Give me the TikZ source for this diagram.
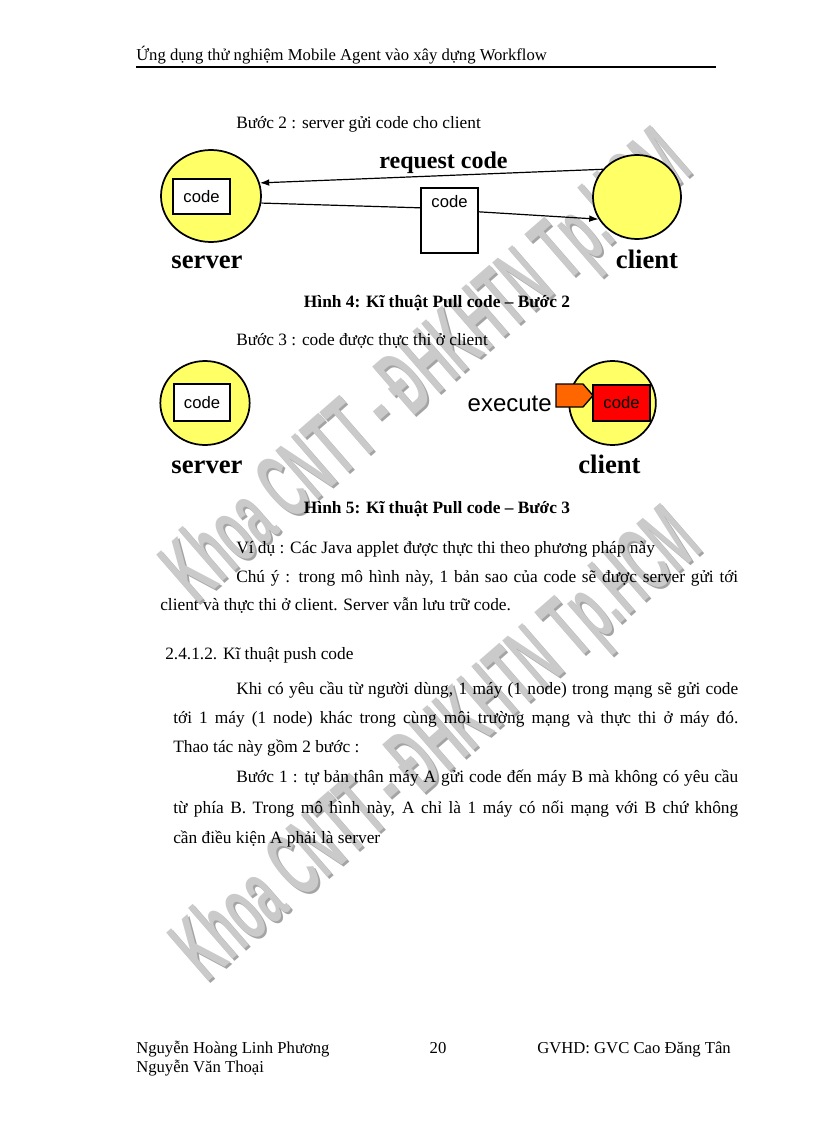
\documentclass[tikz,border=0pt]{standalone}
\usepackage{fontspec}
\usepackage{graphicx}
\setmainfont{Liberation Serif}
\newfontfamily\arialfont{Liberation Sans}
\usetikzlibrary{positioning,arrows.meta,shapes.geometric,calc}
\definecolor{pcyellow}{HTML}{FFFF66}
\definecolor{pcred}{HTML}{FF0000}
\definecolor{pcorange}{HTML}{FF6600}
\definecolor{pcmark}{HTML}{CACACA}
\definecolor{pcmarkedge}{HTML}{A4A4A4}

\begin{document}
\begin{tikzpicture}[x=0.75pt, y=-0.75pt,
  font=\fontsize{13}{15}\selectfont,
  body/.style={anchor=base west, inner sep=0pt},
  host/.style={draw=black, line width=1.3pt, ellipse, fill=pcyellow, inner sep=0pt},
  codebox/.style={draw=black, line width=1.3pt, fill=white, minimum width=42.75pt,
    minimum height=26.25pt, inner sep=0pt, font=\arialfont\fontsize{12.5}{14}\selectfont},
  hostlbl/.style={anchor=base, inner sep=0pt, font=\fontsize{20}{24}\selectfont\bfseries},
  caption/.style={anchor=base, inner sep=0pt, font=\fontsize{13}{15}\selectfont\bfseries},
  link/.style={line width=0.9pt, -{Latex[length=7pt,width=5pt]}},
  wmark/.style={inner sep=0pt, rotate=41, text=pcmark,
    font=\arialfont\bfseries\fontsize{35}{35}\selectfont},
  ]
  \useasboundingbox[fill=white] (0,0) rectangle (816,1123);

  % Watermark, twice, behind the page.
  \foreach \cx/\cy [count=\i] in {430/370, 440/748} {
    \node[wmark, text=pcmarkedge] (wmshade\i) at (\cx+2,\cy+2)
      {\scalebox{0.97}[2]{Khoa CNTT - ĐHKHTN Tp.HCM}};
    \node[wmark] (wm\i) at (\cx,\cy)
      {\scalebox{0.97}[2]{Khoa CNTT - ĐHKHTN Tp.HCM}};
  }

  % Running head.
  \node[body, font=\fontsize{12.5}{14}\selectfont] (hdr) at (136,61)
    {Ứng dụng thử nghiệm Mobile Agent vào xây dựng Workflow};
  \draw[line width=1.8pt] (136,67) -- (716,67);

  % Step 2: the server sends the code.
  \node[body] (step2) at (236,129) {Bước 2 : server gửi code cho client};
  \node[host, minimum width=75pt, minimum height=69pt] (srvA) at (211,196) {};
  \node[host, minimum width=66pt, minimum height=63pt] (cliA) at (637,197) {};
  \node[codebox] (codeA) at (201.5,196.5) {code};
  \node[codebox, text height=14.6pt, text depth=34.15pt] (codeMsg) at (449.5,220.5) {code};
  \node[anchor=base, inner sep=0pt, font=\fontsize{18}{20}\selectfont\bfseries] (reqLbl)
    at (443.5,169) {request code};

  \draw[link] (cliA.141) -- (srvA.15);
  \draw[line width=0.9pt] (srvA.-8) -- ($(codeMsg.north west)!0.31!(codeMsg.south west)$);
  \draw[link] ($(codeMsg.north east)!0.37!(codeMsg.south east)$) -- (cliA.210);

  \node[hostlbl] (srvLblA) at (207,268) {server};
  \node[hostlbl] (cliLblA) at (647,268) {client};
  \node[caption] (cap4) at (437,307) {Hình 4: Kĩ thuật Pull code – Bước 2};

  % Step 3: the code runs at the client.
  \node[body] (step3) at (236,345) {Bước 3 : code được thực thi ở client};
  \node[host, minimum width=67pt, minimum height=63pt] (srvB) at (205,403) {};
  \node[host, minimum width=65pt, minimum height=63pt] (cliB) at (612.5,403) {};
  \node[codebox, minimum width=42pt, minimum height=27.75pt] (codeB) at (202,402.5) {code};
  \coordinate (execTip) at (593,395.5);
  \draw[line width=1pt, fill=pcorange] (556,384) -- (583,384) -- (execTip)
    -- (583,407) -- (556,407) -- cycle;
  \node[codebox, fill=pcred, minimum height=27pt] (codeRun) at (621.5,403) {code};
  \node[anchor=base east, inner sep=0pt, font=\arialfont\fontsize{18}{20}\selectfont]
    (execLbl) at (552,411) {execute};

  \node[hostlbl] (srvLblB) at (207,473) {server};
  \node[hostlbl] (cliLblB) at (609.5,473) {client};
  \node[caption] (cap5) at (437,513) {Hình 5: Kĩ thuật Pull code – Bước 3};

  % Body text.
  \node[body] (ex) at (236,553) {Ví dụ : Các Java applet được thực thi theo phương pháp này};
  \node[body] (noteA) at (236,582)
    {\makebox[376.5pt][s]{Chú ý : trong mô hình này, 1 bản sao của code sẽ được server gửi tới}};
  \node[body] (noteB) at (160,610) {client và thực thi ở client. Server vẫn lưu trữ code.};
  \node[body] (sec) at (165,659) {2.4.1.2. Kĩ thuật push code};
  \node[body] (parA) at (236,694)
    {\makebox[376.5pt][s]{Khi có yêu cầu từ người dùng, 1 máy (1 node) trong mạng sẽ gửi code}};
  \node[body] (parB) at (173,723)
    {\makebox[423.75pt][s]{tới 1 máy (1 node) khác trong cùng môi trường mạng và thực thi ở máy đó.}};
  \node[body] (parC) at (173,752) {Thao tác này gồm 2 bước :};
  \node[body] (parD) at (236,782)
    {\makebox[376.5pt][s]{Bước 1 : tự bản thân máy A gửi code đến máy B mà không có yêu cầu}};
  \node[body] (parE) at (173,813)
    {\makebox[423.75pt][s]{từ phía B. Trong mô hình này, A chỉ là 1 máy có nối mạng với B chứ không}};
  \node[body] (parF) at (173,843) {cần điều kiện A phải là server};

  % Footer.
  \node[body, font=\fontsize{12.5}{14}\selectfont] (authA) at (136,1053) {Nguyễn Hoàng Linh Phương};
  \node[body, font=\fontsize{12.5}{14}\selectfont] (authB) at (136,1072) {Nguyễn Văn Thoại};
  \node[anchor=base, inner sep=0pt, font=\fontsize{12.5}{14}\selectfont] (pgno) at (438,1053) {20};
  \node[body, font=\fontsize{12.5}{14}\selectfont] (tutor) at (537,1053) {GVHD: GVC Cao Đăng Tân};
\end{tikzpicture}
\end{document}
